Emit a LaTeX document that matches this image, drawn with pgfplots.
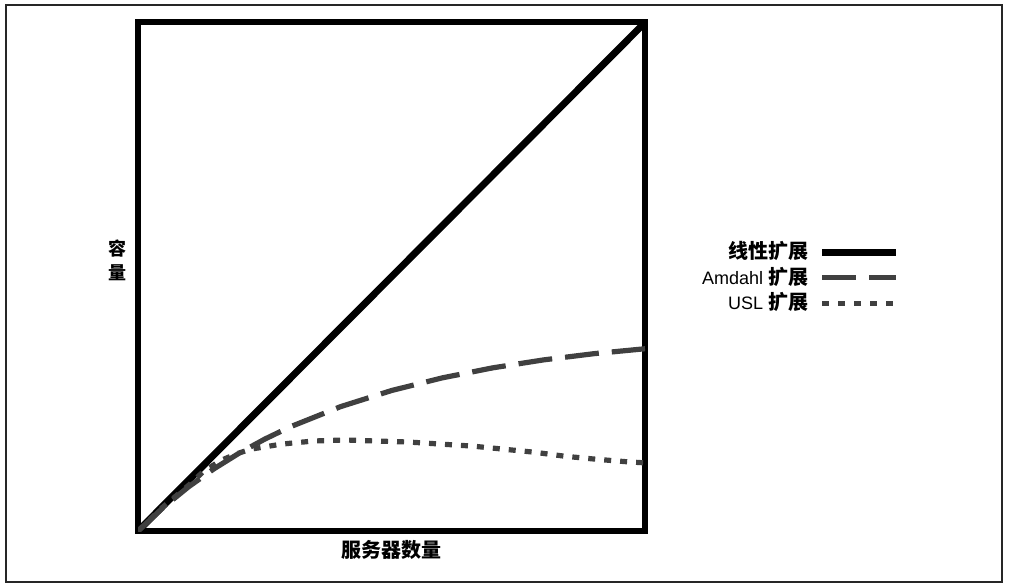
\documentclass[border=0pt]{standalone}
\usepackage{fontspec}
\setmainfont{Liberation Sans}
\newfontfamily\cjk{Noto Sans CJK SC}
\usepackage{pgfplots}
\pgfplotsset{compat=1.18}
\pgfplotstableread{
x y
0 0
5 4.66
10 8.71
15 12.24
20 15.34
25 18.07
30 20.47
40 24.47
50 27.62
60 30.11
70 32.09
80 33.65
90 34.88
100 35.84
}\amdahl
\pgfplotstableread{
x y
0 0
5 4.8
10 9.0
13 11.8
16.4 13.9
19.5 15.2
22.3 16.1
28.4 17.1
34.7 17.7
40.8 17.9
46.9 17.7
53.3 17.5
59.6 17.1
65.9 16.7
72.0 16.1
78.1 15.5
84.2 14.7
90.5 14.1
96.6 13.6
100 13.4
}\usl
\begin{document}
\begin{tikzpicture}
\useasboundingbox (-69pt,-26pt) rectangle (436pt,265.5pt);
\draw[line width=0.8pt, black!85] (-66pt,-25.5pt) rectangle (432pt,263pt);
\begin{axis}[
  scale only axis,
  width=253.5pt, height=254.25pt,
  xmin=0, xmax=100, ymin=0, ymax=100,
  xtick=\empty, ytick=\empty,
  axis line style={line width=3pt},
  clip=true,
  every axis x label/.style={at={(axis description cs:0.5,0)}, anchor=center, yshift=-9.5pt, font=\cjk\bfseries\fontsize{10pt}{12pt}\selectfont},
  every axis y label/.style={at={(axis description cs:0,0.533)}, anchor=center, xshift=-10pt, align=center, font=\cjk\bfseries\fontsize{9pt}{11pt}\selectfont},
  xlabel={服务器数量},
  ylabel={容\\[1pt]量},
  legend plot pos=right,
  legend cell align=right,
  legend style={at={(axis description cs:1.503,0.498)}, anchor=east, draw=none, fill=none,
    inner sep=0pt, row sep=0pt, column sep=5pt,
    nodes={inner xsep=0pt, inner ysep=1pt, text height=8.5pt, text depth=2.2pt}},
  legend image code/.code={\draw[#1] plot coordinates {(0pt,0pt) (18.5pt,0pt) (37pt,0pt)};},
]
\addplot[black, line width=3.5pt] coordinates {(0,0) (100,100)};
\addlegendentry{{\cjk\bfseries\fontsize{10pt}{12pt}\selectfont 线性扩展}}
\addplot[black!75, line width=2.6pt, dash pattern=on 17pt off 6.5pt] table {\amdahl};
\addlegendentry{{\fontsize{9pt}{12pt}\selectfont Amdahl} {\cjk\bfseries\fontsize{10pt}{12pt}\selectfont 扩展}}
\addplot[black!75, line width=2.6pt, dash pattern=on 3.5pt off 4.5pt] table {\usl};
\addlegendentry{{\fontsize{9pt}{12pt}\selectfont USL} {\cjk\bfseries\fontsize{10pt}{12pt}\selectfont 扩展}}
\end{axis}
\end{tikzpicture}
\end{document}
